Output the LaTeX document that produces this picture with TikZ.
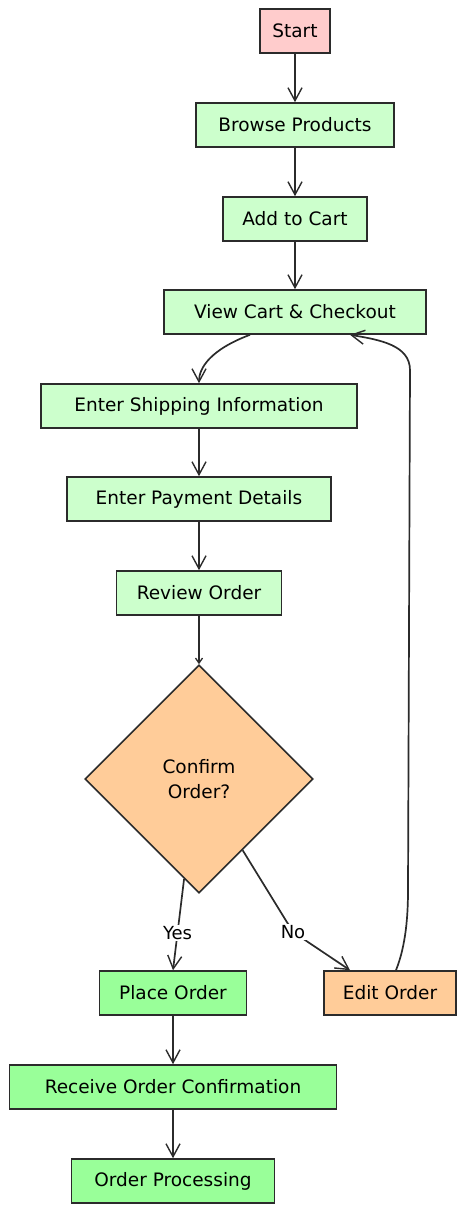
\documentclass[tikz,border=0pt]{standalone}
\usepackage{fontspec}
\setmainfont{DejaVu Sans}
\usetikzlibrary{arrows.meta,shapes.geometric,calc}
\definecolor{pinkfill}{HTML}{FFCCCC}
\definecolor{lgreen}{HTML}{CCFFCC}
\definecolor{orangefill}{HTML}{FFCC99}
\definecolor{bgreen}{HTML}{99FF99}
\definecolor{stroke}{HTML}{2B2B2B}
\tikzset{
  box/.style={draw=stroke, line width=1.6pt, rectangle, minimum height=44pt, inner sep=0pt, font=\fontsize{18.5}{22}\selectfont},
  flow/.style={draw=stroke, line width=1.7pt, -{Straight Barb[length=13pt,width=14pt,line width=1.4pt]}},
  lbl/.style={fill=white, inner sep=1.5pt, font=\fontsize{18}{20}\selectfont}
}
\begin{document}
\begin{tikzpicture}[x=1pt,y=-1pt]
\useasboundingbox (0,0) rectangle (465,1213);
\node[box, fill=pinkfill, minimum width=70pt] (start) at (295,31) {Start};
\node[box, fill=lgreen, minimum width=198pt] (browse) at (295,125) {Browse Products};
\node[box, fill=lgreen, minimum width=144pt] (add) at (295,219) {Add to Cart};
\node[box, fill=lgreen, minimum width=262pt] (view) at (295,312) {View Cart \& Checkout};
\node[box, fill=lgreen, minimum width=316pt] (ship) at (199,406) {Enter Shipping Information};
\node[box, fill=lgreen, minimum width=264pt] (pay) at (199,499) {Enter Payment Details};
\node[box, fill=lgreen, minimum width=165pt] (review) at (199,593) {Review Order};
\node[draw=stroke, line width=1.6pt, diamond, aspect=1, fill=orangefill, minimum width=228pt, minimum height=228pt, inner sep=0pt, align=center, font=\fontsize{18.5}{25}\selectfont] (dia) at (199,779) {Confirm\\ Order?};
\node[box, fill=bgreen, minimum width=147pt] (place) at (173,993) {Place Order};
\node[box, fill=orangefill, minimum width=132pt] (edit) at (390,993) {Edit Order};
\node[box, fill=bgreen, minimum width=327pt] (receive) at (173,1087) {Receive Order Confirmation};
\node[box, fill=bgreen, minimum width=203pt] (proc) at (173,1181) {Order Processing};
\coordinate (nobend) at (293,932);

\draw[flow] (start) -- (browse);
\draw[flow] (browse) -- (add);
\draw[flow] (add) -- (view);
\draw[flow] ([xshift=-45pt]view.south) .. controls +(-40,15) and +(0,-15) .. (ship.north);
\draw[flow] (ship) -- (pay);
\draw[flow] (pay) -- (review);
\draw[draw=stroke, line width=1.7pt, -{Straight Barb[length=5pt,width=7pt,line width=1.3pt]}] (review.south) -- (dia.north);
\draw[flow] ($(dia.south)!0.13!(dia.west)$) -- (place.north) node[lbl, pos=0.59] {Yes};
\draw[flow, rounded corners=12pt] ($(dia.south)!0.38!(dia.east)$) -- (nobend) -- ([xshift=-40pt]edit.north);
\node[lbl] (nolbl) at (nobend) {No};
\draw[flow] ([xshift=6pt]edit.north) .. controls +(10,-25) and +(0,25) .. ++(12,-80) -- ++(2,-520) .. controls +(0,-25) and +(30,5) .. ([xshift=55pt]view.south);
\draw[flow] (place) -- (receive);
\draw[flow] (receive) -- (proc);
\end{tikzpicture}
\end{document}
